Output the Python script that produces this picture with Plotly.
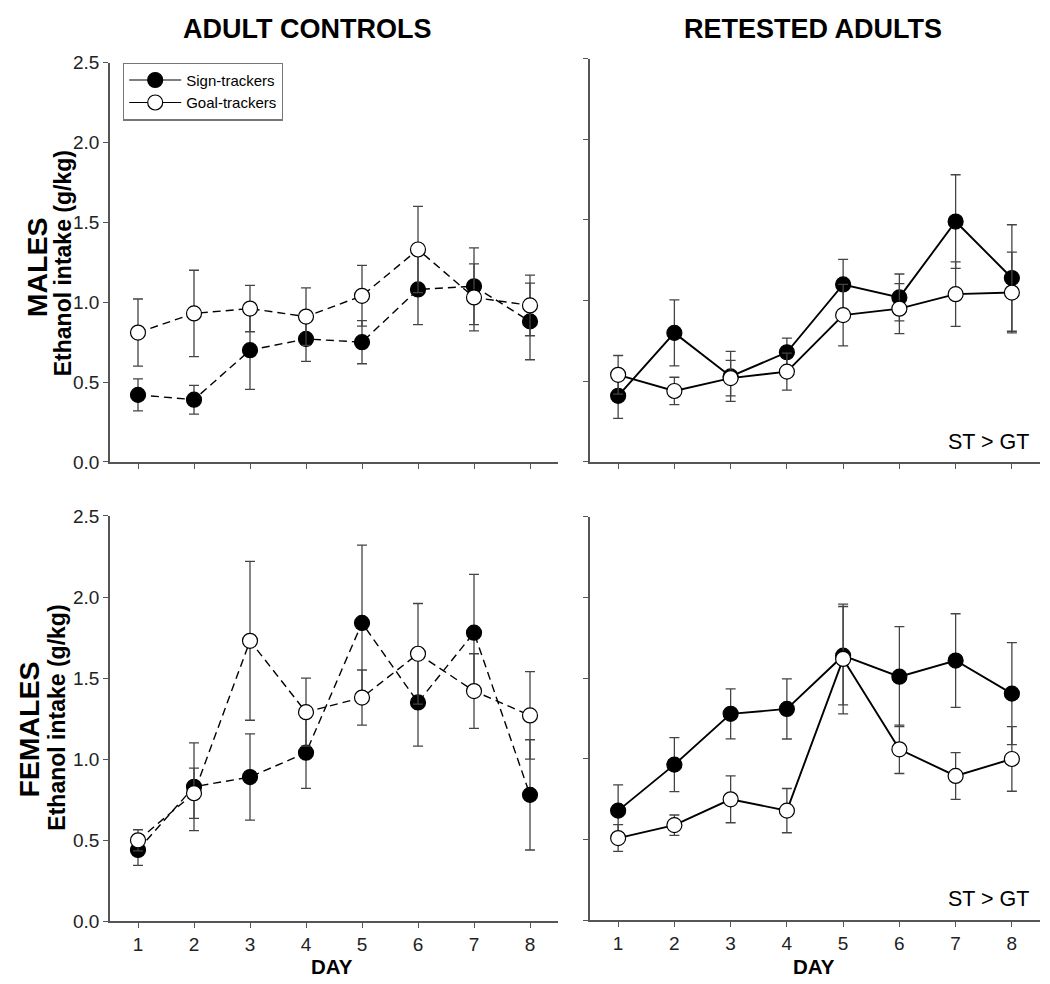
import plotly.graph_objects as go

days = [1, 2, 3, 4, 5, 6, 7, 8]

# Males, adult controls
m_ctrl_st = [0.42, 0.39, 0.70, 0.77, 0.75, 1.08, 1.10, 0.88]
m_ctrl_st_err = [0.10, 0.09, 0.245, 0.14, 0.135, 0.22, 0.24, 0.24]
m_ctrl_gt = [0.81, 0.93, 0.96, 0.91, 1.04, 1.33, 1.03, 0.98]
m_ctrl_gt_err = [0.21, 0.27, 0.145, 0.18, 0.19, 0.27, 0.21, 0.19]

# Males, retested adults
m_ret_st = [0.41, 0.80, 0.53, 0.68, 1.10, 1.02, 1.49, 1.14]
m_ret_st_err = [0.14, 0.205, 0.155, 0.087, 0.155, 0.145, 0.29, 0.33]
m_ret_gt = [0.54, 0.44, 0.52, 0.56, 0.91, 0.95, 1.04, 1.05]
m_ret_gt_err = [0.12, 0.085, 0.11, 0.115, 0.19, 0.155, 0.20, 0.25]

# Females, adult controls
f_ctrl_st = [0.44, 0.83, 0.89, 1.04, 1.84, 1.35, 1.78, 0.78]
f_ctrl_st_err = [0.095, 0.27, 0.266, 0.22, 0.48, 0.27, 0.36, 0.34]
f_ctrl_gt = [0.50, 0.79, 1.73, 1.29, 1.38, 1.65, 1.42, 1.27]
f_ctrl_gt_err = [0.065, 0.155, 0.49, 0.21, 0.17, 0.31, 0.23, 0.27]

# Females, retested adults
f_ret_st = [0.68, 0.965, 1.28, 1.31, 1.64, 1.51, 1.61, 1.405]
f_ret_st_err = [0.16, 0.167, 0.155, 0.186, 0.305, 0.31, 0.29, 0.316]
f_ret_gt = [0.51, 0.59, 0.75, 0.68, 1.62, 1.06, 0.895, 1.00]
f_ret_gt_err = [0.083, 0.063, 0.145, 0.137, 0.34, 0.15, 0.145, 0.20]

y_ticks = [0.0, 0.5, 1.0, 1.5, 2.0, 2.5]
col_titles = ["ADULT CONTROLS", "RETESTED ADULTS"]
row_titles = ["MALES", "FEMALES"]
y_title = "Ethanol intake (g/kg)"
x_title = "DAY"
stat_note = "ST > GT"
legend_names = ["Sign-trackers", "Goal-trackers"]

W, H = 1050, 984
FONT = "Liberation Sans, Arial, sans-serif"
AX = "#555555"

# screen-placement calibration (page offset / vertical fit of the rendered page)
OX, OY, SY = 8.0, 18.4, 0.98


def X(xs):
    return (xs - OX) / W


def Y(ys):
    return 1 - ((ys - OY) / SY) / H


panels = [
    ("x", "y", (110, 558), (63, 463), m_ctrl_st, m_ctrl_st_err, m_ctrl_gt, m_ctrl_gt_err, "dash", False, True),
    ("x2", "y2", (590, 1040), (59, 463), m_ret_st, m_ret_st_err, m_ret_gt, m_ret_gt_err, "solid", False, False),
    ("x3", "y3", (110, 558), (517, 923), f_ctrl_st, f_ctrl_st_err, f_ctrl_gt, f_ctrl_gt_err, "dash", True, True),
    ("x4", "y4", (590, 1040), (518, 922), f_ret_st, f_ret_st_err, f_ret_gt, f_ret_gt_err, "solid", True, False),
]

fig = go.Figure()
layout = {}

for (xa, ya, xd, yd, st, st_e, gt, gt_e, dash, showx, showy) in panels:
    lw = 1.4 if dash == "dash" else 1.9
    for vals, errs, fill in ((st, st_e, "black"), (gt, gt_e, "white")):
        fig.add_trace(go.Scatter(
            x=days, y=vals, xaxis=xa, yaxis=ya, mode="lines+markers",
            line=dict(color="black", width=lw, dash="solid" if dash == "solid" else "8px,5px"),
            marker=dict(size=15, color=fill, line=dict(color="black", width=1.2)),
            error_y=dict(type="data", array=errs, visible=True, color="#444444",
                         thickness=1.3, width=5),
            showlegend=False, cliponaxis=False,
        ))
    xkey = "xaxis" + xa[1:]
    ykey = "yaxis" + ya[1:]
    layout[xkey] = dict(
        domain=[X(xd[0]), X(xd[1])], range=[0.5, 8.5], anchor=ya, tickvals=days,
        showticklabels=showx, ticks="outside", ticklen=5, tickwidth=1.3, tickcolor=AX,
        showline=True, linecolor=AX, linewidth=1.6, showgrid=False, zeroline=False,
        tickfont=dict(family=FONT, size=19, color="#222222"),
    )
    layout[ykey] = dict(
        domain=[Y(yd[1]), Y(yd[0])], range=[0, 2.5], anchor=xa, tickvals=y_ticks, tickformat=".1f",
        showticklabels=showy, ticks="outside", ticklen=5, tickwidth=1.3, tickcolor=AX,
        showline=True, linecolor=AX, linewidth=1.6, showgrid=False, zeroline=False,
        tickfont=dict(family=FONT, size=19, color="#222222"),
    )

# legend-only traces (solid short line with marker)
for name, fill in zip(legend_names, ("black", "white")):
    fig.add_trace(go.Scatter(
        x=[None], y=[None], xaxis="x", yaxis="y", mode="lines+markers", name=name,
        line=dict(color="black", width=1.2),
        marker=dict(size=15, color=fill, line=dict(color="black", width=1.2)),
        showlegend=True,
    ))

annotations = []
# column titles (kept at the very top of the figure)
for txt, cx in zip(col_titles, (306.5, 813)):
    annotations.append(dict(text="<b>%s</b>" % txt, x=X(cx), y=1 - 11 / H, xref="paper", yref="paper",
                            showarrow=False, font=dict(family=FONT, size=27, color="black"),
                            xanchor="center", yanchor="middle"))
# row titles
for txt, cx, cy in ((row_titles[0], 37, 268), (row_titles[1], 29, 731)):
    annotations.append(dict(text="<b>%s</b>" % txt, x=X(cx), y=Y(cy), xref="paper", yref="paper",
                            showarrow=False, textangle=-90, font=dict(family=FONT, size=28.5, color="black"),
                            xanchor="center", yanchor="middle"))
# y titles
for cx, cy in ((63, 264), (57, 719)):
    annotations.append(dict(text="<b>%s</b>" % y_title, x=X(cx), y=Y(cy), xref="paper", yref="paper",
                            showarrow=False, textangle=-90, font=dict(family=FONT, size=23, color="black"),
                            xanchor="center", yanchor="middle"))
# x titles
for cx in (331.5, 813.5):
    annotations.append(dict(text="<b>%s</b>" % x_title, x=X(cx), y=Y(968), xref="paper", yref="paper",
                            showarrow=False, font=dict(family=FONT, size=20.5, color="black"),
                            xanchor="center", yanchor="middle"))
# statistical notes
for cy in (443, 901):
    annotations.append(dict(text=stat_note, x=X(1031), y=Y(cy), xref="paper", yref="paper",
                            showarrow=False, font=dict(family=FONT, size=21.5, color="black"),
                            xanchor="right", yanchor="middle"))

fig.update_layout(
    width=W, height=H, margin=dict(l=0, r=0, t=0, b=0),
    paper_bgcolor="white", plot_bgcolor="white",
    font=dict(family=FONT, color="black"),
    showlegend=True,
    legend=dict(x=X(123), y=Y(63), xanchor="left", yanchor="top",
                bordercolor="#777777", borderwidth=1.2, bgcolor="white",
                font=dict(family=FONT, size=15, color="black"),
                itemwidth=52, tracegroupgap=0),
    annotations=annotations,
    **layout,
)

fig.write_html("out.html")
